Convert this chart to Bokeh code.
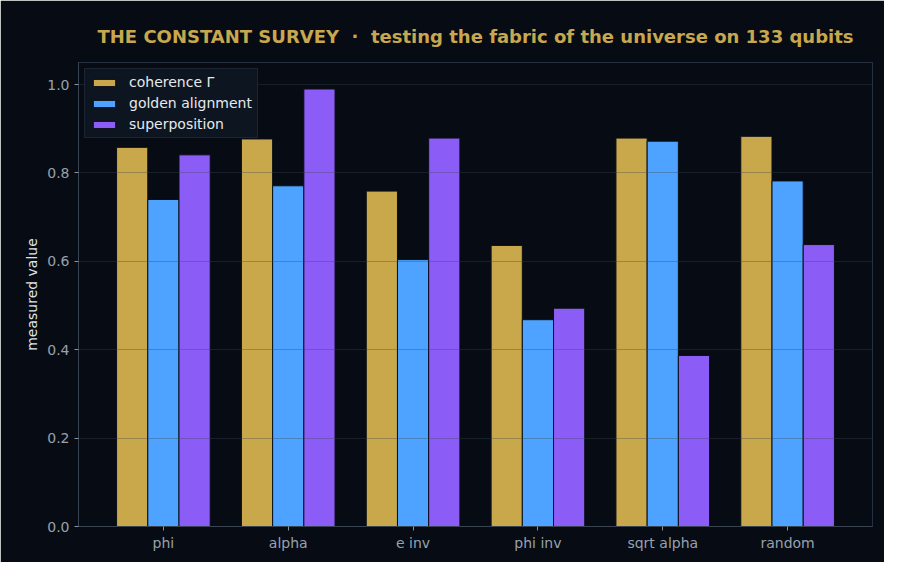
from bokeh.plotting import figure
from bokeh.models import ColumnDataSource, FixedTicker, Legend, LegendItem, Range1d
from bokeh.transform import dodge
from bokeh.embed import file_html
from bokeh.resources import INLINE

# constants that were surveyed
constants = ["phi", "alpha", "e inv", "phi inv", "sqrt alpha", "random"]
# measured values for each series
coherence = [0.858, 0.877, 0.759, 0.636, 0.879, 0.883]
golden_alignment = [0.740, 0.771, 0.604, 0.468, 0.872, 0.782]
superposition = [0.841, 0.990, 0.879, 0.494, 0.387, 0.638]
y_ticks = [0.0, 0.2, 0.4, 0.6, 0.8, 1.0]

BG = "#070b13"
FONT = "DejaVu Sans"

source = ColumnDataSource(dict(
    x=list(range(len(constants))),
    coherence=coherence,
    golden=golden_alignment,
    superposition=superposition,
))

p = figure(width=884, height=562, output_backend="svg", toolbar_location=None,
           x_range=Range1d(-0.68, 5.68), y_range=Range1d(0, 1.05),
           min_border_left=78, min_border_right=12, min_border_top=62, min_border_bottom=36)
p.background_fill_color = BG
p.border_fill_color = BG
p.outline_line_color = "#27303e"

# title (non-breaking spaces keep the wide gap around the dot)
p.title.text = "THE CONSTANT SURVEY\u00a0\u00a0\u00b7\u00a0\u00a0testing the fabric of the universe on 133 qubits"
p.title.align = "center"
p.title.text_color = "#c8a84f"
p.title.text_font = FONT
p.title.text_font_size = "18px"
p.title.text_font_style = "bold"
p.title.offset = 0
p.title.standoff = 32

# bars, one group per constant
bar_kw = dict(width=0.25, line_color="#0b0f17", line_width=1)
r1 = p.vbar(x=dodge("x", -0.25), top="coherence", source=source, fill_color="#c8a84b", **bar_kw)
r2 = p.vbar(x=dodge("x", 0.0), top="golden", source=source, fill_color="#4da3ff", **bar_kw)
r3 = p.vbar(x=dodge("x", 0.25), top="superposition", source=source, fill_color="#8b5cf6", **bar_kw)

# grid drawn over the bars
p.xgrid.visible = False
p.ygrid.level = "guide"
p.ygrid.grid_line_color = "#3b4453"
p.ygrid.grid_line_alpha = 0.35
p.ygrid.ticker = FixedTicker(ticks=y_ticks)

# axes
for ax in (p.xaxis, p.yaxis):
    ax.axis_line_color = "#3a4350"
    ax.major_tick_line_color = "#8a93a0"
    ax.major_tick_out = 4
    ax.major_tick_in = 0
    ax.minor_tick_line_color = None
    ax.major_label_text_color = "#98a1ae"
    ax.major_label_text_font = FONT
    ax.major_label_text_font_size = "14px"

p.xaxis.ticker = FixedTicker(ticks=list(range(len(constants))))
p.xaxis.major_label_overrides = {i: name for i, name in enumerate(constants)}
p.xaxis.major_label_standoff = 4

p.yaxis.ticker = FixedTicker(ticks=y_ticks)
p.yaxis.major_label_overrides = {t: "%.1f" % t for t in y_ticks}
p.yaxis.major_label_standoff = 5
p.yaxis.axis_label = "measured value"
p.yaxis.axis_label_text_color = "#dfe3e9"
p.yaxis.axis_label_text_font = FONT
p.yaxis.axis_label_text_font_size = "14px"
p.yaxis.axis_label_text_font_style = "normal"
p.yaxis.axis_label_standoff = 4

legend = Legend(items=[
    LegendItem(label="coherence \u0393", renderers=[r1]),
    LegendItem(label="golden alignment", renderers=[r2]),
    LegendItem(label="superposition", renderers=[r3]),
], location="top_left")
legend.margin = 6
legend.padding = 5
legend.spacing = 5
legend.glyph_width = 28
legend.glyph_height = 9
legend.label_height = 16
legend.label_standoff = 11
legend.label_text_color = "#e6e9ee"
legend.label_text_font = FONT
legend.label_text_font_size = "14px"
legend.background_fill_color = "#0e1622"
legend.background_fill_alpha = 0.95
legend.border_line_color = "#2a3344"
p.add_layout(legend)

open("out.html", "w").write(file_html(p, INLINE))
